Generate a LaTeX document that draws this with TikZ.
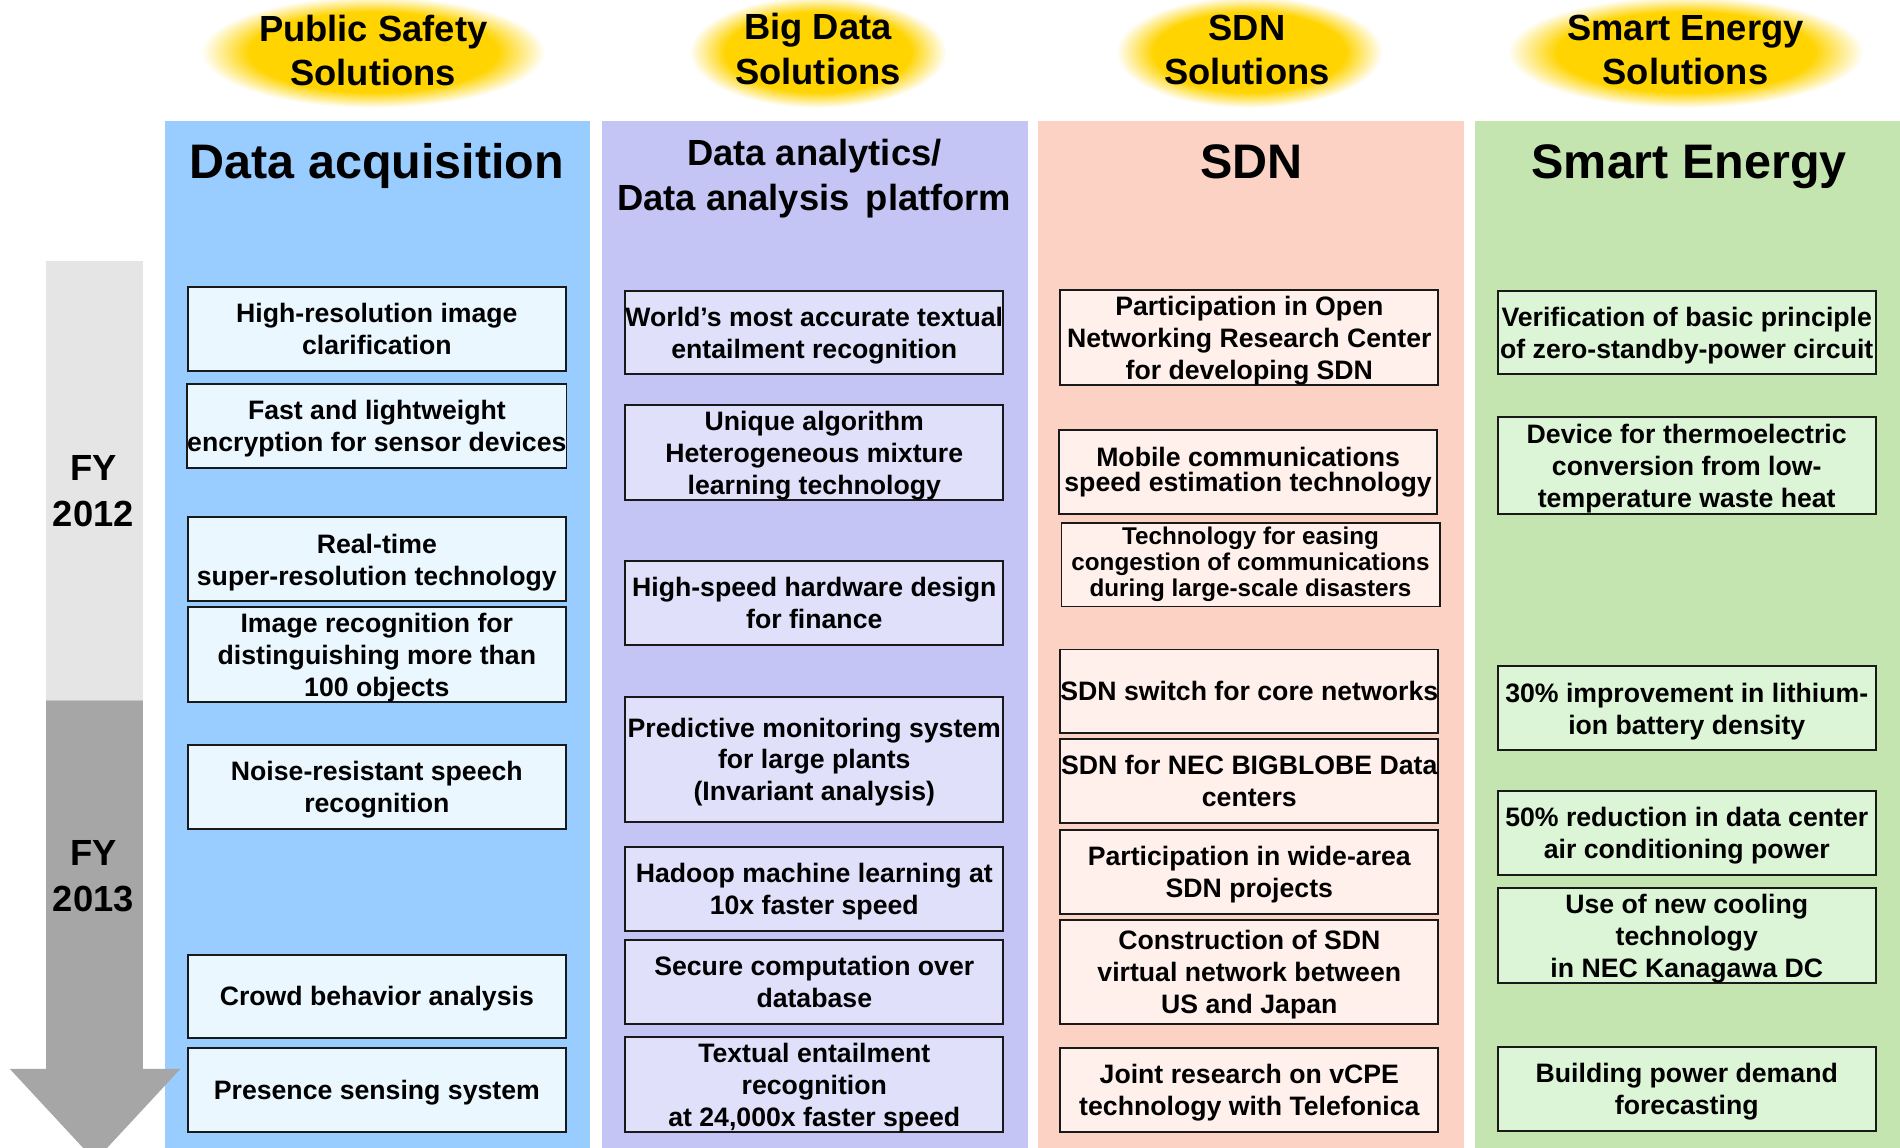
\documentclass[tikz,border=0pt]{standalone}
\usepackage{fontspec}
\setmainfont{Liberation Sans}
\definecolor{colA}{RGB}{153,204,255}
\definecolor{colB}{RGB}{196,196,245}
\definecolor{colC}{RGB}{252,210,196}
\definecolor{colD}{RGB}{196,228,176}
\definecolor{boxA}{RGB}{234,247,255}
\definecolor{boxB}{RGB}{224,224,250}
\definecolor{boxC}{RGB}{255,240,236}
\definecolor{boxD}{RGB}{220,245,214}
\definecolor{sun}{RGB}{255,212,0}
\definecolor{tlLight}{RGB}{229,229,229}
\definecolor{tlDark}{RGB}{166,166,166}
\pgfdeclareradialshading{glow}{\pgfpoint{0bp}{0bp}}{color(0bp)=(sun); color(18bp)=(sun); color(25bp)=(white); color(50bp)=(white)}
% invisible rules giving every text block a fixed ascent and descent
\newcommand\linebox{\rule[-0.212em]{0pt}{1.117em}}
\newcommand\firstline{\rule{0pt}{0.95em}}
% keep the baseline distance fixed even for tall lines
\newcommand\fixedlines{\lineskiplimit=-100pt\relax}
\begin{document}
\begin{tikzpicture}[x=0.5pt,y=-0.5pt,
  item/.style={draw=black!90, line width=0.8pt, minimum width=156pt, inner sep=0pt,
    align=center, font=\bfseries\fontsize{11}{13.2}\selectfont,
    execute at begin node={\fixedlines\linebox}, execute at end node=\linebox},
  itemA/.style={item, fill=boxA},
  itemB/.style={item, fill=boxB},
  itemC/.style={item, fill=boxC},
  itemD/.style={item, fill=boxD},
  coltitle/.style={align=center, font=\bfseries\fontsize{20}{24}\selectfont},
  soltitle/.style={align=center, font=\bfseries\fontsize{15}{18.25}\selectfont},
  fylabel/.style={align=center, font=\bfseries\fontsize{15}{18.75}\selectfont}]
\useasboundingbox (0,0) rectangle (1568,947);
\clip (0,0) rectangle (1568,947);

% column backgrounds
\fill[colA] (136,100) rectangle (487,947);
\fill[colB] (497,100) rectangle (848,947);
\fill[colC] (857,100) rectangle (1208,947);
\fill[colD] (1217,100) rectangle (1568,947);

% glowing solution badges
\shade[shading=glow] (308,43) ellipse [x radius=142, y radius=46];
\shade[shading=glow] (675,43) ellipse [x radius=106, y radius=46];
\shade[shading=glow] (1031,43) ellipse [x radius=110, y radius=46];
\shade[shading=glow] (1391,43) ellipse [x radius=147, y radius=46];
\node[soltitle] (s1) at (308,42) {Public Safety\\Solutions};
\node[soltitle] (s2) at (675,40.5) {Big Data\\Solutions};
\node[soltitle] (s3) at (1029,41) {SDN\\Solutions};
\node[soltitle] (s4) at (1391,41) {Smart Energy\\Solutions};

% column titles
\node[coltitle, anchor=base] (t1) at (311,147) {Data acquisition};
\node[align=center, font=\bfseries\fontsize{15}{18.5}\selectfont] (t2) at (672,147.5) {Data analytics/\\Data analysis\ \,platform};
\node[coltitle, anchor=base] (t3) at (1033,147) {SDN};
\node[coltitle, anchor=base] (t4) at (1394,147) {Smart Energy};

% timeline arrow
\fill[tlLight] (38,215) rectangle (118,578);
\fill[tlDark] (38,578) -- (118,578) -- (118,882) -- (149,882) -- (78.5,958)
  -- (8,882) -- (38,882) -- cycle;
\node[fylabel] (fy12) at (77,405.5) {FY\\2012};
\node[fylabel] (fy13) at (77,723) {FY\\2013};

% Data acquisition
\node[itemA, minimum height=34.5pt] (a1) at (311,271.5) {\firstline High-resolution image\\clarification};
\node[itemA, minimum height=34.5pt] (a2) at (311,351.5) {\firstline Fast and lightweight\\encryption for sensor devices};
\node[itemA, minimum height=34.5pt] (a3) at (311,461.5) {\firstline Real-time\\super-resolution technology};
\node[itemA, minimum height=38pt] (a4) at (311,540) {\firstline Image recognition for\\distinguishing more than\\100 objects};
\node[itemA, minimum height=34.5pt] (a5) at (311,649.5) {\firstline Noise-resistant speech\\recognition};
\node[itemA, minimum height=34.5pt] (a6) at (311,822.5) {Crowd behavior analysis};
\node[itemA, minimum height=34.5pt] (a7) at (311,899.5) {Presence sensing system};

% Data analytics
\node[itemB, minimum height=34.5pt] (b1) at (672,274.5) {\firstline World’s most accurate textual\\entailment recognition};
\node[itemB, minimum height=39.5pt] (b2) at (672,373.5) {\firstline Unique algorithm\\Heterogeneous mixture\\learning technology};
\node[itemB, minimum height=34.5pt] (b3) at (672,497.5) {\firstline High-speed hardware design\\for finance};
\node[itemB, minimum height=51.5pt] (b4) at (672,626.5) {\firstline Predictive monitoring system\\for large plants\\(Invariant analysis)};
\node[itemB, minimum height=34.5pt] (b5) at (672,733.5) {\firstline Hadoop machine learning at\\10x faster speed};
\node[itemB, minimum height=34.5pt] (b6) at (672,810.5) {\firstline Secure computation over\\database};
\node[itemB, minimum height=39pt] (b7) at (672,895) {\firstline Textual entailment\\recognition\\at 24,000x faster speed};

% SDN
\node[itemC, minimum height=37.5pt] (c1) at (1031,278.5) {\firstline Participation in Open\\Networking Research Center\\for developing SDN};
\node[itemC, minimum height=34.5pt, font=\bfseries\fontsize{11}{10.5}\selectfont] (c2) at (1030,389.5) {Mobile communications\\speed estimation technology};
\node[itemC, minimum height=34.5pt, font=\bfseries\fontsize{10}{10.75}\selectfont] (c3) at (1032,466) {Technology for easing\\congestion of communications\\during large-scale disasters};
\node[itemC, minimum height=34.5pt] (c4) at (1031,570.5) {SDN switch for core networks};
\node[itemC, minimum height=34.5pt] (c5) at (1031,644.5) {\firstline SDN for NEC BIGBLOBE Data\\centers};
\node[itemC, minimum height=34.5pt] (c6) at (1031,719.5) {\firstline Participation in wide-area\\SDN projects};
\node[itemC, minimum height=43pt] (c7) at (1031,802) {\firstline Construction of SDN\\virtual network between\\US and Japan};
\node[itemC, minimum height=34.5pt] (c8) at (1031,899.5) {\firstline Joint research on vCPE\\technology with Telefonica};

% Smart Energy
\node[itemD, minimum height=34.5pt] (d1) at (1392,274.5) {\firstline Verification of basic principle\\of zero-standby-power circuit};
\node[itemD, minimum height=40pt] (d2) at (1392,384) {\firstline Device for thermoelectric\\conversion from low-\\temperature waste heat};
\node[itemD, minimum height=34.5pt] (d3) at (1392,584.5) {\firstline 30\% improvement in lithium-\\ion battery density};
\node[itemD, minimum height=34.5pt] (d4) at (1392,687.5) {\firstline 50\% reduction in data center\\air conditioning power};
\node[itemD, minimum height=39pt] (d5) at (1392,772) {\firstline Use of new cooling\\technology\\in NEC Kanagawa DC};
\node[itemD, minimum height=34.5pt] (d6) at (1392,898.5) {\firstline Building power demand\\forecasting};
\end{tikzpicture}
\end{document}
